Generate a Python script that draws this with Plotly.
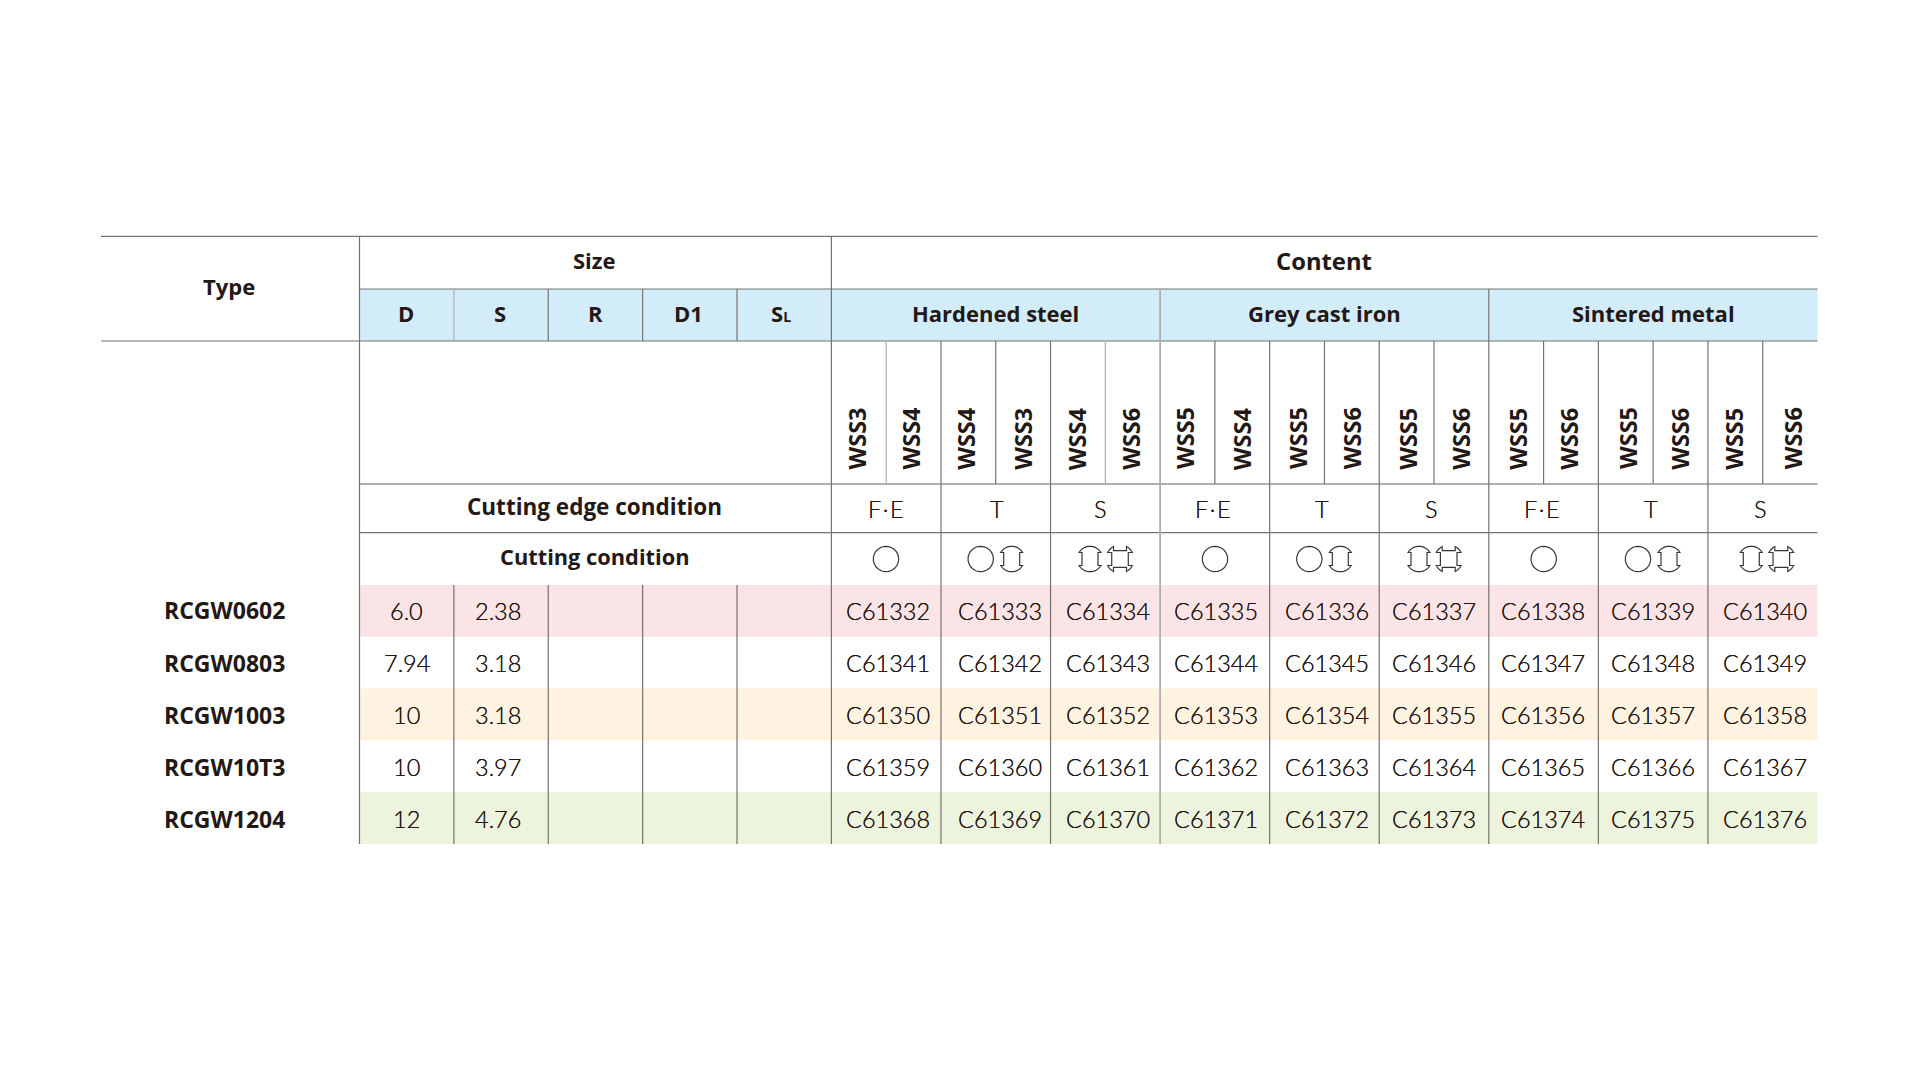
import numpy as np
import plotly.graph_objects as go

# ---------- data ----------
types = ["RCGW0602", "RCGW0803", "RCGW1003", "RCGW10T3", "RCGW1204"]
size_cols = ["D", "S", "R", "D1", "S<span style='font-size:14px'>L</span>"]
d_vals = ["6.0", "7.94", "10", "10", "12"]
s_vals = ["2.38", "3.18", "3.18", "3.97", "4.76"]
materials = ["Hardened steel", "Grey cast iron", "Sintered metal"]
grades = ["WSS3", "WSS4", "WSS4", "WSS3", "WSS4", "WSS6",
          "WSS5", "WSS4", "WSS5", "WSS6", "WSS5", "WSS6",
          "WSS5", "WSS6", "WSS5", "WSS6", "WSS5", "WSS6"]
edge_cond = ["F\u200a·\u200aE", "T", "S", "F\u200a·\u200aE", "T", "S", "F\u200a·\u200aE", "T", "S"]
cut_cond = [["O"], ["O", "I"], ["I", "X"], ["O"], ["O", "I"], ["I", "X"], ["O"], ["O", "I"], ["I", "X"]]
codes_r1 = ["C61332", "C61333", "C61334", "C61335", "C61336", "C61337", "C61338", "C61339", "C61340"]
codes_r2 = ["C61341", "C61342", "C61343", "C61344", "C61345", "C61346", "C61347", "C61348", "C61349"]
codes_r3 = ["C61350", "C61351", "C61352", "C61353", "C61354", "C61355", "C61356", "C61357", "C61358"]
codes_r4 = ["C61359", "C61360", "C61361", "C61362", "C61363", "C61364", "C61365", "C61366", "C61367"]
codes_r5 = ["C61368", "C61369", "C61370", "C61371", "C61372", "C61373", "C61374", "C61375", "C61376"]
codes = [codes_r1, codes_r2, codes_r3, codes_r4, codes_r5]

# ---------- layout ----------
TEXT = "#231815"
LINE = "#77726f"
LIGHT = "#b3aeae"
BLUE = "#d3ecfa"
row_fill = ["#fbe4e6", None, "#fef2e0", None, "#ecf4dd"]
REG = "Lato"
BOLD = "Open Sans"

X0, X1 = 101, 1817.5
XT, XC = 359.5, 831.4
Y = [236.3, 289, 341, 484, 532.7, 585]
ROW_H = 51.8
Y_END = Y[5] + 5 * ROW_H
SIZE_W = (XC - XT) / 5
GROUP_W = (X1 - XC) / 9

code_x = [888.4, 999.8, 1107.6, 1215.9, 1327.4, 1433.9, 1542.9, 1653, 1764.5]
grade_x = [856, 910, 965.3, 1022.3, 1076.7, 1130.3, 1184.5, 1241.7, 1297.5,
           1351.7, 1407.3, 1460.3, 1517.3, 1568.3, 1627.5, 1679.3, 1733.3, 1792.7]
edge_x = [886, 997.3, 1100.3, 1213, 1321.7, 1431.3, 1541.8, 1650.7, 1760.3]
sym_x = [[886], [980.7, 1011.7], [1090, 1120], [1215], [1309.3, 1340.3], [1419, 1448.7],
         [1543.7], [1638, 1669], [1751.3, 1781.3]]
size_x = [406, 500, 595, 688, 781]
row_y = [610.5, 663, 715, 767, 819]

fig = go.Figure()
shapes, annos = [], []


def hline(y, x0, x1, color=LINE, w=1.2):
    shapes.append(dict(type="line", x0=x0, x1=x1, y0=y, y1=y, line=dict(color=color, width=w), layer="above"))


def vline(x, y0, y1, color=LINE, w=1.2):
    shapes.append(dict(type="line", x0=x, x1=x, y0=y0, y1=y1, line=dict(color=color, width=w), layer="above"))


def rect(x0, x1, y0, y1, color):
    shapes.append(dict(type="rect", x0=x0, x1=x1, y0=y0, y1=y1, fillcolor=color, line=dict(width=0), layer="below"))


def txt(x, y, s, size=23.5, bold=False, angle=0, anchor="center"):
    f = dict(family=BOLD if bold else REG, size=size, color=TEXT, weight=700 if bold else 300)
    if not bold:
        f["shadow"] = "0 0 0.6px #231815"
    annos.append(dict(x=x, y=y, text=s, showarrow=False, textangle=angle, xanchor=anchor, yanchor="middle", font=f))


def arc(a0, a1, r, cx, cy):
    t = np.radians(np.linspace(a0, a1, 24))
    return list(zip(cx + r * np.cos(t), cy + r * np.sin(t)))


def poly(points):
    return "M " + " L ".join(f"{x:.2f} {y:.2f}" for x, y in points) + " Z"


def symbol(kind, cx, cy):
    r = 12.7
    if kind == "O":
        pts = arc(0, 360, r, cx, cy)
    elif kind == "I":
        h, n = 6.5, 8
        a = np.degrees(np.arcsin(h / r))
        pts = arc(a, 180 - a, r, cx, cy) + [(cx - n, cy + h), (cx - n, cy - h)]
        pts += arc(180 + a, 360 - a, r, cx, cy) + [(cx + n, cy - h), (cx + n, cy + h)]
    else:
        R, h, n = 14.0, 6.5, 8.3
        a = np.degrees(np.arcsin(h / R))
        p = []
        for q in range(4):
            c, s = np.cos(np.radians(90 * q)), np.sin(np.radians(90 * q))
            seg = arc(a, 90 - a, R, 0, 0) + [(h, n), (-h, n)]
            p += [(cx + c * u - s * v, cy + s * u + c * v) for u, v in seg]
        pts = p
    shapes.append(dict(type="path", path=poly(pts), line=dict(color="#3a3533", width=1.2),
                       fillcolor="rgba(0,0,0,0)", layer="above"))


# fills
rect(XT, XC, Y[1], Y[2], BLUE)
rect(XC, X1, Y[1], Y[2], BLUE)
for i, c in enumerate(row_fill):
    if c:
        rect(XT, X1, Y[5] + i * ROW_H, Y[5] + (i + 1) * ROW_H, c)

# horizontal rules
hline(Y[0], X0, X1)
hline(Y[1], XT, X1)
hline(Y[2], X0, X1)
hline(Y[3], XT, X1, LIGHT, 2)
hline(Y[4], XT, X1)

# vertical rules
vline(XT, Y[0], Y_END)
vline(XC, Y[0], Y_END)
for i in range(1, 5):
    vline(XT + i * SIZE_W, Y[1], Y[2], LIGHT if i == 1 else LINE)
    vline(XT + i * SIZE_W, Y[5], Y_END)
for g in range(1, 9):
    x = XC + g * GROUP_W
    thick = g % 3 == 0
    vline(x, Y[1] if thick else Y[2], Y_END, LIGHT if g == 3 else LINE, 1.8 if g == 3 else 1.2)
for g in range(9):
    vline(XC + (g + 0.5) * GROUP_W, Y[2], Y[3], LIGHT if g in (0, 2) else LINE)

# header text
txt(228.7, 286, "Type", 22, True)
txt(594, 260, "Size", 22, True)
txt(1323.7, 260.5, "Content", 23.8, True)
for x, s in zip(size_x, size_cols):
    txt(x, 313, s, 22, True)
for i, m in enumerate(materials):
    txt(XC + (i * 3 + 1.5) * GROUP_W, 313, m, 22, True)
for x, s in zip(grade_x, grades):
    txt(x, 438.5, s, 23.5, True, angle=-90)
txt(594.5, 506.5, "Cutting edge condition", 22.5, True)
txt(594.5, 556.5, "Cutting condition", 21.8, True)
for x, s in zip(edge_x, edge_cond):
    txt(x, 509.3, s, 23.5)
for xs, kinds in zip(sym_x, cut_cond):
    for x, k in zip(xs, kinds):
        symbol(k, x, 559)

# body rows
for i, y in enumerate(row_y):
    txt(161.5, y - 0.5, types[i], 23, True, anchor="left")
    txt(406.5, y, d_vals[i], 23.5)
    txt(497.5, y, s_vals[i], 23.5)
    for x, s in zip(code_x, codes[i]):
        txt(x, y, s, 23.5)

fig.update_layout(
    width=1920, height=1080, margin=dict(l=0, r=0, t=0, b=0),
    paper_bgcolor="white", plot_bgcolor="white", showlegend=False,
    xaxis=dict(range=[0, 1920], visible=False, fixedrange=True),
    yaxis=dict(range=[1080, 0], visible=False, fixedrange=True),
    shapes=shapes, annotations=annos,
)
fig.write_html("out.html", config={"displayModeBar": False},
               post_script="document.body.style.margin='0';")
